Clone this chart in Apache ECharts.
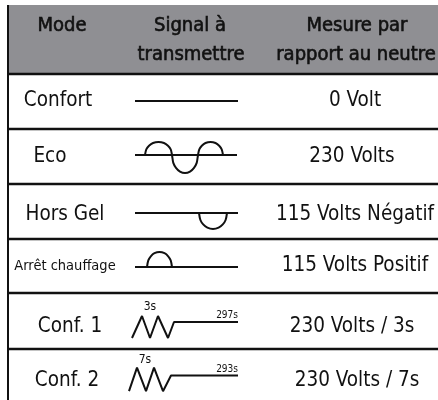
<!DOCTYPE html>
<html>
<head>
<meta charset="utf-8">
<script src="https://cdn.jsdelivr.net/npm/echarts@6/dist/echarts.min.js"></script>
<style>
  html, body { margin: 0; padding: 0; background: #fff; }
  #chart { width: 438px; height: 400px; }
</style>
</head>
<body>
<div id="chart"></div>
<script>
// texte du tableau
const headerMode = ['Mode']
const headerSignal = ['Signal à', 'transmettre']
const headerMesure = ['Mesure par', 'rapport au neutre']
const modes = ['Confort', 'Eco', 'Hors Gel', 'Arrêt chauffage', 'Conf. 1', 'Conf. 2']
const mesures = ['0 Volt', '230 Volts', '115 Volts Négatif', '115 Volts Positif', '230 Volts / 3s', '230 Volts / 7s']

// signaux : [temps, niveau]
const baseConfort = [[7, 0], [110, 0]]
const baseEco = [[7, 0], [109, 0]]
const waveEco = [
  [17, 0], [18.3, 5.7], [21, 9.3], [25, 12], [30.5, 13], [36, 12], [40, 9.3], [42.7, 5.7], [44, 0],
  [45.3, -7.9], [48, -12.8], [52, -16.6], [57, -18], [62, -16.6], [66, -12.8], [68.7, -7.9], [70, 0],
  [71.3, 5.7], [73.8, 9.3], [77.5, 12], [82.5, 13], [87.5, 12], [91.2, 9.3], [93.7, 5.7], [95, 0]
]
const baseHorsGel = [[7, 0], [110, 0]]
const waveHorsGel = [[71, 0], [72.4, -7], [75.2, -11.4], [79.4, -14.7], [85, -16], [90.6, -14.7], [94.8, -11.4], [97.6, -7], [99, 0]]
const baseArret = [[7, 0], [110, 0]]
const waveArret = [[19, 0], [20.3, 6.6], [22.8, 10.7], [26.5, 13.8], [31.5, 15], [36.5, 13.8], [40.2, 10.7], [42.7, 6.6], [44, 0]]
const waveConf1 = [[4, -16], [14, 6], [22, -16], [30, 6], [40, -16], [46, 0], [110, 0]]
const waveConf2 = [[1, -16], [9, 8], [18, -16], [26, 8], [35, -16], [43, 0], [110, 0]]
const pulseLabels = [['3s', '297s'], ['7s', '293s']]

// mise en page
const rowLines = [129, 184, 239, 293, 349]
const baselineY = [101, 155, 213, 267, 322, 376]
const modeX = [58, 50, 65, 65, 70, 67]
const modeY = [101, 157, 215, 266, 327, 381]
const mesureX = [355, 352, 355, 355, 352, 357]
const fontBody = '"DejaVu Sans Condensed", "Liberation Sans Narrow", sans-serif'

const signalRows = [
  [{ d: baseConfort, smooth: false }],
  [{ d: baseEco, smooth: false }, { d: waveEco, smooth: true }],
  [{ d: baseHorsGel, smooth: false }, { d: waveHorsGel, smooth: true }],
  [{ d: baseArret, smooth: false }, { d: waveArret, smooth: true }],
  [{ d: waveConf1, smooth: false }],
  [{ d: waveConf2, smooth: false }]
]

let grids = [], xAxes = [], yAxes = [], series = []
signalRows.forEach(function (row, i) {
  grids.push({ left: 128, width: 110, top: baselineY[i] - 25, height: 50 })
  xAxes.push({ type: 'value', gridIndex: i, min: 0, max: 110, show: false })
  yAxes.push({ type: 'value', gridIndex: i, min: -25, max: 25, show: false })
  row.forEach(function (s) {
    series.push({
      type: 'line',
      xAxisIndex: i,
      yAxisIndex: i,
      data: s.d,
      smooth: s.smooth ? 0.3 : false,
      symbol: 'none',
      silent: true,
      animation: false,
      lineStyle: { color: '#111', width: 2 }
    })
  })
})

function txt(x, y, text, size, bold, align) {
  let style = {
    text: text,
    fill: '#111',
    font: size + 'px ' + fontBody,
    align: align || 'center',
    verticalAlign: 'middle'
  }
  if (bold) {
    style.stroke = '#111'
    style.lineWidth = 0.6
  }
  return { type: 'text', x: x, y: y, silent: true, style: style }
}

let graphics = []
// fond gris de l'en-tête
graphics.push({ type: 'rect', shape: { x: 8, y: 5, width: 430, height: 69 }, style: { fill: '#8f8f93' }, silent: true })
graphics.push({ type: 'line', shape: { x1: 8, y1: 74, x2: 438, y2: 74 }, style: { stroke: '#111', lineWidth: 2.5 }, silent: true })
graphics.push({ type: 'line', shape: { x1: 8, y1: 5, x2: 8, y2: 400 }, style: { stroke: '#111', lineWidth: 2 }, silent: true })
rowLines.forEach(function (y) {
  graphics.push({ type: 'line', shape: { x1: 8, y1: y, x2: 438, y2: y }, style: { stroke: '#111', lineWidth: 2.5 }, silent: true })
})

graphics.push(txt(62, 26, headerMode[0], 20, true))
graphics.push(txt(190, 26, headerSignal[0], 20, true))
graphics.push(txt(191, 55, headerSignal[1], 20, true))
graphics.push(txt(357, 26, headerMesure[0], 20, true))
graphics.push(txt(356, 55, headerMesure[1], 20, true))

modes.forEach(function (m, i) {
  graphics.push(txt(modeX[i], modeY[i], m, i === 3 ? 14.5 : 20.5))
  graphics.push(txt(mesureX[i], modeY[i], mesures[i], 20.5))
})

graphics.push(txt(150, 307, pulseLabels[0][0], 12))
graphics.push(txt(238, 315, pulseLabels[0][1], 10, false, 'right'))
graphics.push(txt(145, 360, pulseLabels[1][0], 12))
graphics.push(txt(238, 369, pulseLabels[1][1], 10, false, 'right'))

const chart = echarts.init(document.getElementById('chart'))
chart.setOption({
  backgroundColor: '#fff',
  animation: false,
  grid: grids,
  xAxis: xAxes,
  yAxis: yAxes,
  series: series,
  graphic: graphics
})
window.addEventListener('resize', function () {
  chart.resize()
})
</script>
</body>
</html>
